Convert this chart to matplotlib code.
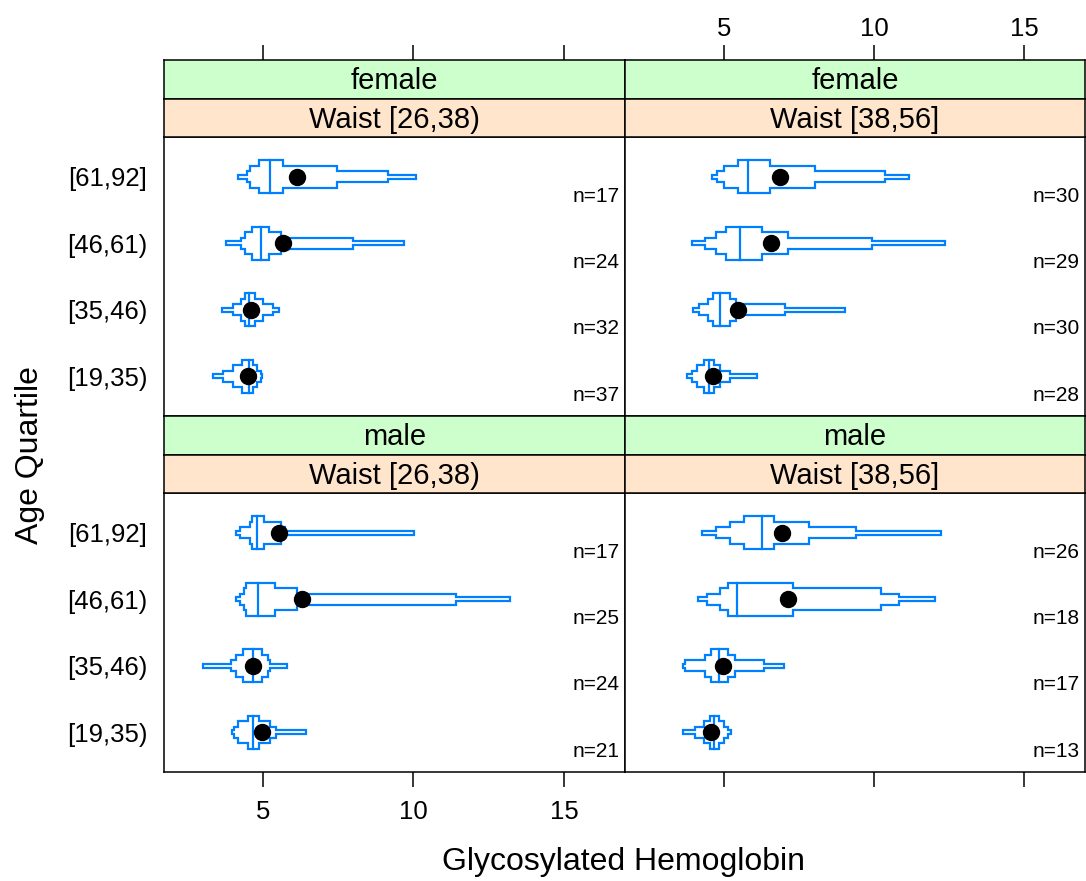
import matplotlib
matplotlib.use('Agg')
import matplotlib.pyplot as plt
from matplotlib.patches import Polygon
import numpy as np

plt.rcParams['font.family'] = ['Liberation Sans', 'DejaVu Sans']

# ---------------- data ----------------
age_levels = ['[19,35)', '[35,46)', '[46,61)', '[61,92]']
quantile_probs = [0.05, 0.125, 0.25, 0.375, 0.5, 0.625, 0.75, 0.875, 0.95]
x_ticks = [5, 10, 15]

# quantiles per age level (rows follow age_levels order)
q_female_w1 = [[3.33, 3.68, 4.01, 4.29, 4.55, 4.68, 4.80, 4.92, 4.98],
               [3.65, 4.01, 4.26, 4.40, 4.55, 4.73, 4.99, 5.32, 5.54],
               [3.77, 4.26, 4.40, 4.62, 4.92, 5.20, 5.60, 7.98, 9.68],
               [4.16, 4.46, 4.57, 4.87, 5.23, 5.65, 7.45, 9.16, 10.08]]
mean_female_w1 = [4.51, 4.60, 5.67, 6.12]
n_female_w1 = [37, 32, 24, 17]

q_female_w2 = [[3.78, 3.93, 4.10, 4.34, 4.51, 4.67, 4.89, 5.20, 6.10],
               [3.98, 4.18, 4.48, 4.65, 4.89, 5.20, 5.40, 7.04, 9.04],
               [3.93, 4.37, 4.74, 5.09, 5.55, 6.28, 7.13, 9.94, 12.38],
               [4.61, 4.79, 5.00, 5.47, 5.81, 6.55, 8.05, 10.36, 11.18]]
mean_female_w2 = [4.65, 5.47, 6.58, 6.88]
n_female_w2 = [28, 30, 29, 30]

q_male_w1 = [[3.96, 4.04, 4.18, 4.51, 4.68, 4.88, 5.23, 5.43, 6.43],
             [3.00, 3.93, 4.09, 4.35, 4.68, 4.96, 5.18, 5.23, 5.81],
             [4.09, 4.24, 4.38, 4.42, 4.84, 5.40, 6.14, 11.40, 13.21],
             [4.09, 4.24, 4.57, 4.64, 4.79, 5.03, 5.59, 5.73, 10.02]]
mean_male_w1 = [4.96, 4.66, 6.31, 5.54]
n_male_w1 = [21, 24, 25, 17]

q_male_w2 = [[3.65, 4.04, 4.35, 4.54, 4.68, 4.84, 5.00, 5.15, 5.25],
             [3.63, 3.71, 4.37, 4.59, 4.84, 5.14, 5.36, 6.33, 7.00],
             [4.15, 4.45, 4.89, 5.14, 5.45, 7.30, 10.24, 10.83, 12.04],
             [4.29, 4.73, 5.20, 5.66, 6.28, 6.67, 7.83, 9.41, 12.24]]
mean_male_w2 = [4.59, 4.98, 7.13, 6.94]
n_male_w2 = [13, 17, 18, 26]

sex_labels = ['female', 'female', 'male', 'male']
waist_labels = ['Waist [26,38)', 'Waist [38,56]', 'Waist [26,38)', 'Waist [38,56]']

# ---------------- layout ----------------
W, H = 1086, 881
fig = plt.figure(figsize=(W / 100, H / 100), dpi=100)

def rect(x0, y0, x1, y1):
    return [x0 / W, 1 - y1 / H, (x1 - x0) / W, (y1 - y0) / H]

BLUE = '#0080ff'
GREEN = '#ccffcc'
PEACH = '#ffe5cc'
xlim = (1.71, 17.03)
ylim = (0.4, 4.6)

panel_specs = [
    (q_female_w1, mean_female_w1, n_female_w1, (164, 625), (60, 99, 137, 416), 'top', False, True),
    (q_female_w2, mean_female_w2, n_female_w2, (625, 1085), (60, 99, 137, 416), 'top', True, False),
    (q_male_w1, mean_male_w1, n_male_w1, (164, 625), (416, 455, 493, 772), 'bottom', True, True),
    (q_male_w2, mean_male_w2, n_male_w2, (625, 1085), (416, 455, 493, 772), 'bottom', False, False),
]

half_h = [0.25 * p / 0.375 for p in quantile_probs[:4]]

for i, (qs, means, ns, (x0, x1), (ys0, ys1, yp0, yp1), tickside, xlab, ylab) in enumerate(panel_specs):
    ax = fig.add_axes(rect(x0, yp0, x1, yp1))
    ax.set_xlim(*xlim)
    ax.set_ylim(*ylim)
    for s in ax.spines.values():
        s.set_linewidth(1.1)
    for j, (q, m, n) in enumerate(zip(qs, means, ns)):
        y = j + 1
        h1, h2, h3, h4 = half_h
        top = [(q[0], y + h1), (q[1], y + h1), (q[1], y + h2), (q[2], y + h2),
               (q[2], y + h3), (q[3], y + h3), (q[3], y + h4), (q[5], y + h4),
               (q[5], y + h3), (q[6], y + h3), (q[6], y + h2), (q[7], y + h2),
               (q[7], y + h1), (q[8], y + h1)]
        bottom = [(xx, 2 * y - yy) for (xx, yy) in reversed(top)]
        poly = Polygon(top + bottom, closed=True, fill=False, edgecolor=BLUE,
                       linewidth=1.6, joinstyle='miter')
        ax.add_patch(poly)
        ax.plot([q[4], q[4]], [y - h4, y + h4], color=BLUE, lw=1.6)
        ax.plot([m], [y], 'o', color='black', markersize=11.5, zorder=5)
        ax.text(xlim[1] - 0.17, y - 0.29, 'n=%d' % n, ha='right', va='center',
                fontsize=15)
    ax.set_yticks(range(1, 5))
    if tickside == 'top':
        ax.set_xticks([])
    else:
        ax.set_xticks(x_ticks)
        ax.xaxis.set_ticks_position('bottom')
        ax.tick_params(axis='x', direction='out', length=11, width=1.1,
                       labelsize=18.5, pad=9, labelbottom=xlab, labeltop=False)
    if ylab:
        ax.set_yticklabels(age_levels)
        ax.tick_params(axis='y', length=0, labelsize=18.5, pad=12)
    else:
        ax.tick_params(axis='y', length=0, labelleft=False)

    # strips
    for k, (sy0, sy1, col, txt) in enumerate([(ys0, ys1, GREEN, sex_labels[i]),
                                              (ys1, yp0, PEACH, waist_labels[i])]):
        sax = fig.add_axes(rect(x0, sy0, x1, sy1))
        sax.set_facecolor(col)
        sax.set_xlim(*xlim)
        sax.set_yticks([])
        if k == 0 and tickside == 'top':
            sax.set_xticks(x_ticks)
            sax.xaxis.set_ticks_position('top')
            sax.tick_params(axis='x', direction='out', length=11, width=1.1,
                            labelsize=18.5, pad=3, labeltop=xlab,
                            labelbottom=False)
        else:
            sax.set_xticks([])
        for s in sax.spines.values():
            s.set_linewidth(1.1)
        sax.text(0.5, 0.46, txt, ha='center', va='center', fontsize=21,
                 transform=sax.transAxes)

fig.text(623 / W, 1 - 862 / H, 'Glycosylated Hemoglobin', ha='center',
         va='center', fontsize=23)
fig.text(30 / W, 1 - 455 / H, 'Age Quartile', ha='center', va='center',
         rotation=90, fontsize=23)

fig.savefig('out.png', dpi=100)
